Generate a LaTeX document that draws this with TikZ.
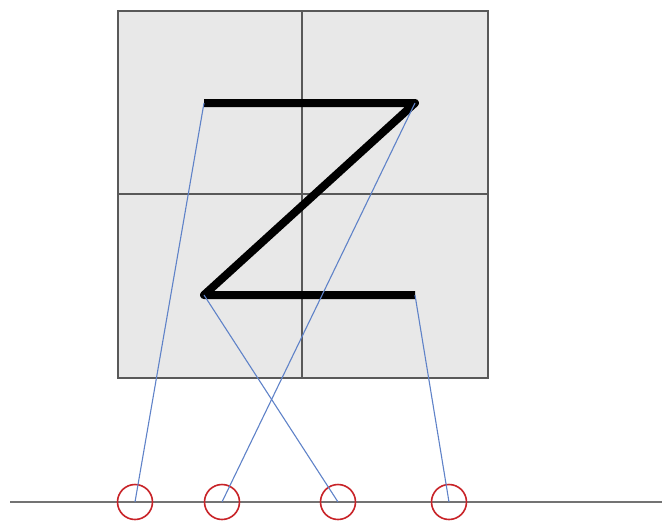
\documentclass[tikz,border=0pt]{standalone}
\begin{document}
\begin{tikzpicture}[x=1pt,y=-1pt,
  gridline/.style={draw=black!65,line width=1.8pt},
  zstroke/.style={line width=8pt,black,line cap=butt,line join=round},
  link/.style={draw={rgb,255:red,95;green,130;blue,200},line width=1.1pt},
  ring/.style={circle,draw={rgb,255:red,200;green,35;blue,40},line width=1.6pt,minimum size=35pt,inner sep=0pt},
  base/.style={draw=black!55,line width=2.8pt}]
\useasboundingbox (0,0) rectangle (662,520);
% square panel
\fill[black!9] (118,11) rectangle (488,378);
\draw[gridline] (118,11) rectangle (488,378);
\draw[gridline] (302,11) -- (302,378);
\draw[gridline] (118,194) -- (488,194);
% Z vertices
\coordinate (tl) at (204,103);
\coordinate (tr) at (415,103);
\coordinate (bl) at (204,295);
\coordinate (br) at (415,295);
\draw[zstroke] (tl) -- (tr) -- (bl) -- (br);
% baseline
\coordinate (l0) at (10,502);
\coordinate (l1) at (662,502);
\draw[base] (l0) -- (l1);
% circles
\node[ring] (c1) at (135,502) {};
\node[ring] (c2) at (222,502) {};
\node[ring] (c3) at (338,502) {};
\node[ring] (c4) at (449,502) {};
% links
\draw[link] (tl) -- (c1.center);
\draw[link] (tr) -- (c2.center);
\draw[link] (bl) -- (c3.center);
\draw[link] (br) -- (c4.center);
\end{tikzpicture}
\end{document}
